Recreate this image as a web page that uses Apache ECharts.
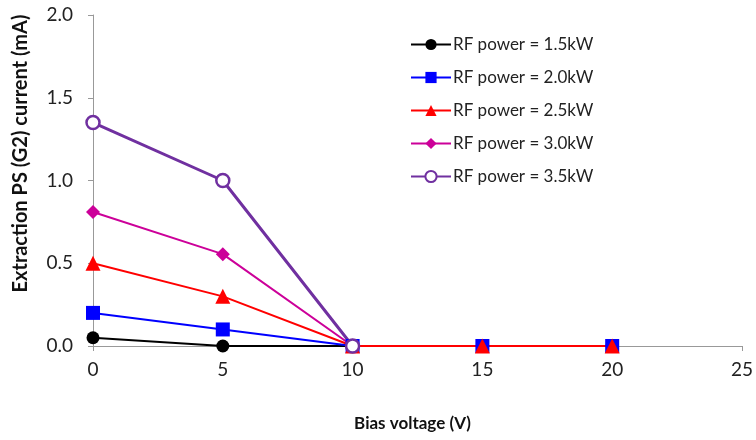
<!DOCTYPE html>
<html>
<head>
<meta charset="utf-8">
<script src="https://cdn.jsdelivr.net/npm/echarts@6/dist/echarts.min.js"></script>
<style>
  html, body { margin: 0; padding: 0; background: #fff; }
  #chart { width: 756px; height: 440px; }
</style>
</head>
<body>
<div id="chart"></div>
<script>
// Bias voltage (V) sweep
const biasVoltage = [0, 5, 10, 15, 20];

// Extraction PS (G2) current (mA) for each RF power level
const rf15 = [0.05, 0.0, 0.0, 0.0, 0.0];
const rf20 = [0.2, 0.1, 0.0, 0.0, 0.0];
const rf25 = [0.5, 0.3, 0.0, 0.0, 0.0];
const rf30 = [0.81, 0.555, 0.0];
const rf35 = [1.35, 1.0, 0.0];

const seriesNames = [
  'RF power = 1.5kW',
  'RF power = 2.0kW',
  'RF power = 2.5kW',
  'RF power = 3.0kW',
  'RF power = 3.5kW'
];

const FONT = 'Lato, "Open Sans", sans-serif';

function pairs(vals) {
  return vals.map((v, i) => [biasVoltage[i], v]);
}

function lineSeries(name, vals, color, symbol, size, width, hollow) {
  return {
    name: name,
    type: 'line',
    data: pairs(vals),
    symbol: symbol,
    symbolSize: size,
    showAllSymbol: true,
    lineStyle: { color: color, width: width },
    itemStyle: hollow
      ? { color: '#fff', borderColor: color, borderWidth: 2.5 }
      : { color: color, borderWidth: 0 },
    emphasis: { disabled: true },
    animation: false
  };
}

const chart = echarts.init(document.getElementById('chart'), null, { renderer: 'canvas' });

chart.setOption({
  backgroundColor: '#ffffff',
  animation: false,
  grid: { left: 93, right: 14, top: 15, bottom: 94, containLabel: false },
  legend: {
    orient: 'vertical',
    left: 410,
    top: 36,
    padding: 0,
    itemWidth: 40,
    itemHeight: 14,
    itemGap: 16,
    textStyle: { fontFamily: FONT, fontSize: 17, color: '#222', padding: [0, 0, 0, -3] },
    data: seriesNames
  },
  xAxis: {
    type: 'value',
    min: 0,
    max: 25,
    interval: 5,
    name: 'Bias voltage (V)',
    nameLocation: 'middle',
    nameGap: 69,
    nameTextStyle: {
      fontFamily: FONT, fontSize: 17, fontWeight: 'bold', color: '#111',
      padding: [0, 10, 0, 0]
    },
    axisLine: { show: true, lineStyle: { color: '#999', width: 1 } },
    axisTick: { show: true, length: 5, lineStyle: { color: '#999' } },
    axisLabel: { fontFamily: FONT, fontSize: 19, color: '#222', margin: 14 },
    splitLine: { show: false }
  },
  yAxis: {
    type: 'value',
    min: 0,
    max: 2.0,
    interval: 0.5,
    name: 'Extraction PS (G2) current (mA)',
    nameLocation: 'middle',
    nameGap: 62,
    nameTextStyle: {
      fontFamily: FONT, fontSize: 20, fontWeight: 'bold', color: '#111',
      padding: [0, 0, 0, 54]
    },
    axisLine: { show: true, lineStyle: { color: '#999', width: 1 } },
    axisTick: { show: true, length: 5, lineStyle: { color: '#999' } },
    axisLabel: {
      fontFamily: FONT, fontSize: 19, color: '#222', margin: 20,
      formatter: v => v.toFixed(1)
    },
    splitLine: { show: false }
  },
  series: [
    lineSeries(seriesNames[0], rf15, '#000000', 'circle', 13, 2, false),
    lineSeries(seriesNames[1], rf20, '#0000FF', 'rect', 14, 2, false),
    lineSeries(seriesNames[2], rf25, '#FF0000', 'triangle', 15, 2, false),
    lineSeries(seriesNames[3], rf30, '#CC0099', 'diamond', 14, 2, false),
    lineSeries(seriesNames[4], rf35, '#7030A0', 'circle', 13, 3, true)
  ]
});
</script>
</body>
</html>
